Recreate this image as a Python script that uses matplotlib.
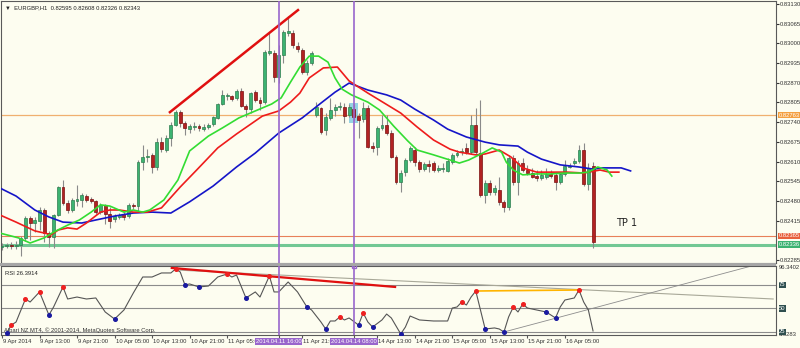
import matplotlib
matplotlib.use('Agg')
import matplotlib.pyplot as plt
import matplotlib.transforms as mtransforms
from matplotlib.patches import Rectangle

# EURGBP H1 candles, bar 0 = 9 Apr 2014 05:00
opens = [0.82328, 0.82331, 0.82335, 0.82331, 0.82335, 0.82358, 0.82424, 0.82407, 0.82414, 0.82450,
         0.82374, 0.82361, 0.82434, 0.82526, 0.82473, 0.82450, 0.82480, 0.82483, 0.82496, 0.82487,
         0.82480, 0.82443, 0.82467, 0.82437, 0.82420, 0.82427, 0.82437, 0.82430, 0.82467, 0.82463,
         0.82608, 0.82625, 0.82632, 0.82592, 0.82674, 0.82648, 0.82688, 0.82731, 0.82773, 0.82737,
         0.82717, 0.82724, 0.82727, 0.82717, 0.82724, 0.82734, 0.82754, 0.82800, 0.82826, 0.82826,
         0.82820, 0.82843, 0.82793, 0.82783, 0.82839, 0.82813, 0.82806, 0.82968, 0.82968, 0.82889,
         0.82962, 0.83034, 0.83034, 0.82991, 0.82978, 0.82905, 0.82935, 0.82764, 0.82787, 0.82714,
         0.82754, 0.82780, 0.82790, 0.82790, 0.82764, 0.82783, 0.82760, 0.82750, 0.82787, 0.82661,
         0.82658, 0.82721, 0.82731, 0.82704, 0.82625, 0.82542, 0.82575, 0.82615, 0.82648, 0.82608,
         0.82585, 0.82602, 0.82605, 0.82582, 0.82585, 0.82579, 0.82608, 0.82632, 0.82641, 0.82655,
         0.82641, 0.82731, 0.82638, 0.82500, 0.82539, 0.82509, 0.82516, 0.82477, 0.82460, 0.82622,
         0.82542, 0.82605, 0.82582, 0.82572, 0.82562, 0.82556, 0.82559, 0.82569, 0.82566, 0.82542,
         0.82569, 0.82592, 0.82605, 0.82612, 0.82648, 0.82536, 0.82595]
closes = [0.82331, 0.82335, 0.82331, 0.82335, 0.82358, 0.82424, 0.82407, 0.82417, 0.82450, 0.82374,
          0.82361, 0.82434, 0.82526, 0.82473, 0.82450, 0.82483, 0.82487, 0.82500, 0.82483, 0.82480,
          0.82443, 0.82467, 0.82437, 0.82414, 0.82430, 0.82434, 0.82427, 0.82467, 0.82463, 0.82608,
          0.82625, 0.82628, 0.82592, 0.82674, 0.82651, 0.82688, 0.82731, 0.82773, 0.82737, 0.82721,
          0.82727, 0.82727, 0.82721, 0.82724, 0.82731, 0.82757, 0.82800, 0.82830, 0.82830, 0.82816,
          0.82843, 0.82793, 0.82783, 0.82836, 0.82813, 0.82803, 0.82971, 0.82975, 0.82889, 0.82962,
          0.83037, 0.83041, 0.82995, 0.82981, 0.82905, 0.82935, 0.82968, 0.82790, 0.82707, 0.82757,
          0.82780, 0.82790, 0.82793, 0.82760, 0.82790, 0.82757, 0.82747, 0.82787, 0.82658, 0.82655,
          0.82721, 0.82731, 0.82704, 0.82625, 0.82542, 0.82572, 0.82615, 0.82655, 0.82608, 0.82585,
          0.82602, 0.82595, 0.82582, 0.82589, 0.82589, 0.82612, 0.82632, 0.82638, 0.82645, 0.82641,
          0.82731, 0.82641, 0.82500, 0.82539, 0.82509, 0.82523, 0.82477, 0.82460, 0.82622, 0.82542,
          0.82605, 0.82582, 0.82572, 0.82559, 0.82556, 0.82566, 0.82569, 0.82562, 0.82542, 0.82569,
          0.82595, 0.82595, 0.82612, 0.82648, 0.82536, 0.82589, 0.82343]
highs = [0.82341, 0.82341, 0.82344, 0.82348, 0.82364, 0.82430, 0.82430, 0.82427, 0.82460, 0.82457,
         0.82381, 0.82437, 0.82529, 0.82549, 0.82483, 0.82490, 0.82533, 0.82506, 0.82503, 0.82493,
         0.82483, 0.82473, 0.82470, 0.82460, 0.82437, 0.82440, 0.82443, 0.82473, 0.82473, 0.82615,
         0.82665, 0.82651, 0.82638, 0.82688, 0.82691, 0.82698, 0.82740, 0.82780, 0.82780, 0.82744,
         0.82734, 0.82740, 0.82734, 0.82734, 0.82737, 0.82760, 0.82803, 0.82846, 0.82836, 0.82830,
         0.82849, 0.82853, 0.82800, 0.82839, 0.82846, 0.82823, 0.82978, 0.83034, 0.82978, 0.82995,
         0.83044, 0.83090, 0.83044, 0.83004, 0.82985, 0.82945, 0.82975, 0.82806, 0.82790, 0.82770,
         0.82820, 0.82800, 0.82806, 0.82803, 0.82800, 0.82800, 0.82770, 0.82806, 0.82797, 0.82674,
         0.82727, 0.82764, 0.82764, 0.82714, 0.82632, 0.82582, 0.82622, 0.82661, 0.82658, 0.82615,
         0.82608, 0.82615, 0.82612, 0.82599, 0.82605, 0.82622, 0.82638, 0.82648, 0.82655, 0.82671,
         0.82764, 0.82787, 0.82813, 0.82549, 0.82549, 0.82533, 0.82559, 0.82483, 0.82632, 0.82632,
         0.82615, 0.82622, 0.82599, 0.82589, 0.82582, 0.82582, 0.82589, 0.82582, 0.82575, 0.82575,
         0.82615, 0.82605, 0.82622, 0.82665, 0.82671, 0.82605, 0.82608]
lows = [0.82318, 0.82325, 0.82321, 0.82321, 0.82298, 0.82348, 0.82351, 0.82377, 0.82384, 0.82344,
        0.82328, 0.82325, 0.82430, 0.82467, 0.82440, 0.82443, 0.82463, 0.82460, 0.82477, 0.82473,
        0.82437, 0.82437, 0.82404, 0.82391, 0.82410, 0.82420, 0.82417, 0.82424, 0.82453, 0.82443,
        0.82582, 0.82608, 0.82572, 0.82582, 0.82641, 0.82641, 0.82661, 0.82727, 0.82724, 0.82698,
        0.82704, 0.82714, 0.82711, 0.82711, 0.82717, 0.82727, 0.82750, 0.82797, 0.82813, 0.82810,
        0.82813, 0.82790, 0.82757, 0.82770, 0.82806, 0.82780, 0.82800, 0.82962, 0.82872, 0.82869,
        0.82935, 0.83024, 0.82985, 0.82971, 0.82899, 0.82896, 0.82929, 0.82757, 0.82701, 0.82698,
        0.82747, 0.82760, 0.82780, 0.82737, 0.82757, 0.82747, 0.82688, 0.82740, 0.82655, 0.82641,
        0.82632, 0.82714, 0.82698, 0.82622, 0.82536, 0.82509, 0.82562, 0.82608, 0.82595, 0.82575,
        0.82579, 0.82575, 0.82575, 0.82575, 0.82575, 0.82575, 0.82602, 0.82625, 0.82632, 0.82635,
        0.82635, 0.82632, 0.82493, 0.82473, 0.82500, 0.82500, 0.82467, 0.82443, 0.82450, 0.82533,
        0.82500, 0.82575, 0.82566, 0.82556, 0.82546, 0.82549, 0.82552, 0.82556, 0.82516, 0.82536,
        0.82562, 0.82589, 0.82599, 0.82605, 0.82529, 0.82516, 0.82326]

# moving averages (shifted forward, so they run past the last bar)
ma_green_x = [-0.5, 3.5, 6, 9, 11, 14, 16.5, 19, 21, 23, 26, 28, 30, 31.5, 34.5, 37.5, 40, 44, 47, 50.5,
              54, 57.5, 59.5, 61.5, 63.5, 65.5, 67.5, 69.5, 71, 72.5, 74.5, 78, 80.5, 83.5, 86.5, 88.5,
              92, 95.5, 97.5, 99.5, 102.5, 104.5, 106.5, 107.5, 109, 111, 114, 117, 120, 123, 125, 127,
              129, 130]
ma_green = [0.82374, 0.82358, 0.82341, 0.82358, 0.82377, 0.82400, 0.82417, 0.82443, 0.82467, 0.82463,
            0.82443, 0.82450, 0.82443, 0.82450, 0.82483, 0.82549, 0.82645, 0.82694, 0.82721, 0.82754,
            0.82777, 0.82800, 0.82820, 0.82872, 0.82922, 0.82958, 0.82958, 0.82938, 0.82886, 0.82849,
            0.82830, 0.82806, 0.82780, 0.82727, 0.82678, 0.82648, 0.82632, 0.82615, 0.82605, 0.82615,
            0.82638, 0.82655, 0.82641, 0.82608, 0.82582, 0.82566, 0.82569, 0.82569, 0.82572, 0.82572,
            0.82575, 0.82592, 0.82582, 0.82562]
ma_red_x = [-0.5, 3, 7, 9, 10.5, 12, 14, 16, 18, 21, 23, 25, 28, 31, 34, 38, 41.5, 46, 50, 55.5,
            59, 61.5, 63.5, 65.5, 68.5, 71.5, 74, 78, 81.5, 85, 88.5, 92, 95.5, 97.5, 101, 103,
            106, 108.5, 111, 114, 117, 120.5, 124, 127.5, 129.5, 131.5]
ma_red = [0.82434, 0.82410, 0.82381, 0.82374, 0.82368, 0.82384, 0.82391, 0.82387, 0.82407, 0.82443,
          0.82450, 0.82450, 0.82443, 0.82443, 0.82457, 0.82526, 0.82582, 0.82655, 0.82701, 0.82760,
          0.82777, 0.82806, 0.82836, 0.82886, 0.82919, 0.82922, 0.82876, 0.82836, 0.82803, 0.82770,
          0.82724, 0.82681, 0.82651, 0.82641, 0.82632, 0.82635, 0.82648, 0.82625, 0.82589, 0.82575,
          0.82575, 0.82575, 0.82572, 0.82582, 0.82575, 0.82575]
ma_blue_x = [-0.5, 3, 7, 10, 13, 17, 20, 24, 28, 32, 36, 40, 45, 50, 54, 59, 64, 68, 71, 74,
             78, 82, 85, 88, 92, 95, 99, 103, 106, 110, 112, 115, 119, 123, 126, 128, 130, 132, 134]
ma_blue = [0.82523, 0.82496, 0.82450, 0.82427, 0.82410, 0.82407, 0.82417, 0.82430, 0.82440, 0.82443,
           0.82440, 0.82477, 0.82529, 0.82592, 0.82638, 0.82704, 0.82754, 0.82803, 0.82839, 0.82869,
           0.82846, 0.82830, 0.82813, 0.82783, 0.82747, 0.82717, 0.82691, 0.82674, 0.82665, 0.82661,
           0.82641, 0.82618, 0.82599, 0.82592, 0.82585, 0.82589, 0.82589, 0.82589, 0.82579]

# RSI sub window
rsi_x = [1, 2, 3, 5, 6, 8, 10, 11, 13, 14, 16, 18, 20, 22, 24, 26, 28, 30, 32, 34,
         36, 37, 38, 39, 40, 42, 44, 46, 48, 49, 50, 52, 54, 55, 57, 58, 59, 61, 63, 65,
         66, 68, 69, 70, 71, 72, 73, 74, 76, 77, 78, 79, 81, 82, 83, 85, 86, 87, 89, 92,
         95, 96, 97, 98, 99, 100, 101, 102, 103, 105, 106, 107, 108, 109, 110, 111, 112, 114, 116, 117,
         118, 119, 120, 122, 123, 124, 125, 126]
rsi_vals = [23.9, 32.4, 35.6, 60.1, 56.9, 67.6, 43.1, 51.6, 72.9, 60.1,
            62.2, 60.1, 61.2, 46.3, 38.8, 48.4, 66.5, 83.5, 83.5, 87.8,
            87.8, 92.0, 88.8, 75.0, 76.1, 72.9, 73.9, 83.5, 86.7, 83.5,
            85.6, 61.2, 67.6, 62.2, 84.6, 67.6, 67.6, 78.2, 67.6, 51.6,
            48.4, 35.6, 28.2, 36.7, 36.7, 41.0, 37.8, 39.9, 32.4, 45.2,
            35.6, 30.3, 37.8, 44.1, 39.9, 22.9, 30.3, 42.0, 37.8, 36.7,
            36.7, 50.5, 51.6, 56.9, 53.7, 62.2, 68.6, 48.4, 28.2, 29.3,
            28.2, 25.0, 41.0, 51.6, 46.3, 54.8, 50.5, 48.4, 46.3, 43.1,
            39.9, 51.6, 59.0, 61.2, 69.7, 56.9, 48.4, 26.1]
rsi_peaks = [2, 5, 8, 13, 37, 48, 57, 72, 77, 98, 101, 109, 111, 123]
rsi_troughs = [1, 10, 24, 39, 42, 52, 65, 69, 76, 79, 85, 103, 107, 116, 118]
rsi_levels = [75, 50, 25]

price_ticks = [0.83130, 0.83065, 0.83000, 0.82935, 0.82870, 0.82805, 0.82740,
               0.82675, 0.82610, 0.82545, 0.82480, 0.82415, 0.82285]
date_ticks = [0, 8, 16, 24, 32, 40, 48, 64, 80, 88, 96, 104, 112, 120]
date_labels = ['9 Apr 2014', '9 Apr 13:00', '9 Apr 21:00', '10 Apr 05:00', '10 Apr 13:00',
               '10 Apr 21:00', '11 Apr 05:00', '11 Apr 21:00', '14 Apr 13:00', '14 Apr 21:00',
               '15 Apr 05:00', '15 Apr 13:00', '15 Apr 21:00', '16 Apr 05:00']
vline_bars = [59, 75]
vline_labels = ['2014.04.11 16:00', '2014.04.14 08:00']

plt.rcParams['font.family'] = ['Liberation Sans', 'DejaVu Sans']
fs = 4.2  # small MT4 style labels

W, H = 800, 348
bg = '#fdfdf0'
fig = plt.figure(figsize=(8, 3.48), dpi=100, facecolor=bg)
ax = fig.add_axes([1 / W, 1 - 263 / H, 775 / W, 262 / H], facecolor=bg)
ax_rsi = fig.add_axes([1 / W, 1 - 335 / H, 775 / W, 69 / H], facecolor=bg, sharex=ax)

ax.set_xlim(-0.21, 165.0)
ax.set_ylim(0.82275, 0.83140)

# horizontal levels
ax.axhline(0.82763, color='#f0b070', lw=0.9, zorder=1)
ax.axhline(0.82365, color='#e8805a', lw=0.8, zorder=1)
ax.axhline(0.82336, color='#72c894', lw=2.2, zorder=1)

# highlighted bar
ax.add_patch(Rectangle((74.0, 0.82737), 1.9, 0.00066, facecolor='#7cc8e0', edgecolor='none',
                       alpha=0.8, zorder=1.5))

# candles
xs = list(range(len(opens)))
ax.vlines(xs, lows, highs, color='#8a8a8a', lw=0.8, zorder=2)
up = [c >= o for o, c in zip(opens, closes)]
bottoms = [min(o, c) for o, c in zip(opens, closes)]
heights = [max(abs(c - o), 0.00001) for o, c in zip(opens, closes)]
ax.bar(xs, heights, bottom=bottoms, width=0.62,
       color=['#3cb371' if u else '#b22222' for u in up],
       edgecolor=['#2e7d4f' if u else '#7a1010' for u in up], lw=0.5, zorder=3)

# moving averages
ax.plot(ma_blue_x, ma_blue, color='#1515c8', lw=1.2, zorder=4)
ax.plot(ma_red_x, ma_red, color='#ee1c1c', lw=1.2, zorder=4)
ax.plot(ma_green_x, ma_green, color='#33dd33', lw=1.2, zorder=4)

# trend line
ax.plot([35.8, 63.1], [0.82773, 0.83110], color='#e01010', lw=1.8, zorder=5)

ax.text(130.9, 0.82407, 'TP 1', fontsize=7, family='DejaVu Sans', color='#222222', va='center')
ax.text(0.005, 0.985, '\u25bc  EURGBP,H1  0.82595 0.82608 0.82326 0.82343', transform=ax.transAxes,
        fontsize=fs, color='#222222', va='top')

for b in vline_bars:
    ax.axvline(b, color='#9966cc', lw=1.2, zorder=6)
    ax_rsi.axvline(b, color='#9966cc', lw=1.2, zorder=6)

ax.yaxis.tick_right()
ax.set_yticks(price_ticks)
ax.set_yticklabels([f'{p:.5f}' for p in price_ticks])
ax.tick_params(axis='y', direction='out', length=2, pad=0.5, labelsize=fs, colors='#333333')
ax.tick_params(axis='x', bottom=False, labelbottom=False)

yt = ax.get_yaxis_transform()
for val, col in [(0.82763, '#f4a040'), (0.82365, '#e8603c'), (0.82336, '#3cb371')]:
    ax.text(1.003, val, f'{val:.5f}', transform=yt, fontsize=fs, color='white', va='center', ha='left',
            bbox=dict(facecolor=col, edgecolor='none', pad=0.4), clip_on=False, zorder=10)

# RSI panel
ax_rsi.set_ylim(21.8, 95.2)
for lev in rsi_levels:
    ax_rsi.axhline(lev, color='#8c8c8c', lw=0.8, zorder=1)
ax_rsi.plot([36.9, 164.4], [91.0, 60.1], color='#a8a898', lw=0.8, zorder=2)
ax_rsi.plot([107.0, 160.6], [25.0, 96.3], color='#8c8c8c', lw=0.6, zorder=2)
ax_rsi.plot([36.2, 83.8], [93.1, 72.9], color='#e01010', lw=1.6, zorder=4)
ax_rsi.plot([101.1, 123.2], [68.6, 69.7], color='#ffb400', lw=1.2, zorder=4)
ax_rsi.plot(rsi_x, rsi_vals, color='#555555', lw=0.8, zorder=3)
rsi_map = dict(zip(rsi_x, rsi_vals))
ax_rsi.plot(rsi_peaks, [rsi_map[p] for p in rsi_peaks], 'o', color='#ee2020', ms=2.6, zorder=5)
ax_rsi.plot(rsi_troughs, [rsi_map[p] for p in rsi_troughs], 'o', color='#1a1aa0', ms=2.6, zorder=5)
ax_rsi.plot([75], [95.2], marker='s', ms=3, mfc='none', mec='#9966cc', clip_on=False, zorder=7)

ax_rsi.text(0.005, 0.93, 'RSI 26.3914', transform=ax_rsi.transAxes, fontsize=fs, color='#222222', va='top')
ax_rsi.text(0.004, 0.03, 'Alpari NZ MT4, \u00a9 2001-2014, MetaQuotes Software Corp.',
            transform=ax_rsi.transAxes, fontsize=fs, color='#333333', va='bottom', zorder=2)
ax_rsi.set_yticks([])
yr = ax_rsi.get_yaxis_transform()
ax_rsi.text(1.004, 93.1, '96.3402', transform=yr, fontsize=fs, color='#333333', va='center', clip_on=False)
ax_rsi.text(1.004, 22.6, '3.6283', transform=yr, fontsize=fs, color='#333333', va='center', clip_on=False,
            zorder=5)
for lev in rsi_levels:
    ax_rsi.text(1.004, lev, str(lev), transform=yr, fontsize=fs, color='white', va='center',
                bbox=dict(facecolor='#2f4f4f', edgecolor='none', pad=0.4), clip_on=False, zorder=10)

# time axis
ax_rsi.set_xticks(date_ticks + vline_bars)
ax_rsi.set_xticklabels([])
ax_rsi.tick_params(axis='x', direction='out', length=2, colors='#555555')
xt = mtransforms.blended_transform_factory(ax_rsi.transData, ax_rsi.transAxes)
for t, lab in zip(date_ticks, date_labels):
    ax_rsi.text(t + 0.2, -0.06, lab, transform=xt, fontsize=fs, color='#333333', va='top', ha='left',
                clip_on=False)
for t, lab in zip(vline_bars, vline_labels):
    ax_rsi.text(t, -0.06, lab, transform=xt, fontsize=fs, color='white', va='top', ha='center',
                bbox=dict(facecolor='#9966cc', edgecolor='none', pad=0.6), clip_on=False, zorder=10)

for a in (ax, ax_rsi):
    for s in a.spines.values():
        s.set_color('#5a5a5a')
        s.set_linewidth(0.8)

# separator between the two windows
fig.add_artist(Rectangle((0, 1 - 266 / H), 776 / W, 3 / H, transform=fig.transFigure,
                         facecolor='#a6a6a6', edgecolor='none'))

fig.savefig('out.png', dpi=100, facecolor=bg)
